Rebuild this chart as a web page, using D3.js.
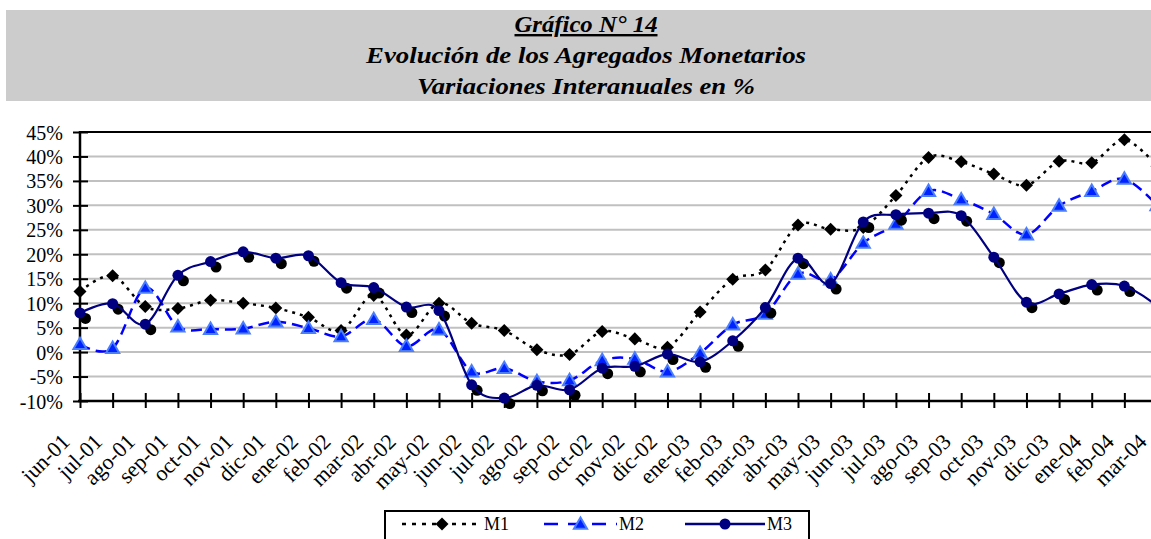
<!DOCTYPE html>
<html>
<head>
<meta charset="utf-8">
<script src="https://cdn.jsdelivr.net/npm/d3@7"></script>
<style>
  html, body { margin: 0; padding: 0; background: #fff; overflow: hidden; }
  svg, svg text { font-family: "Liberation Serif", "Times New Roman", Times, Tinos, serif; }
</style>
</head>
<body>
<div id="chart"></div>
<script>
// ---- data ----
const months = ["jun-01","jul-01","ago-01","sep-01","oct-01","nov-01","dic-01","ene-02","feb-02","mar-02",
  "abr-02","may-02","jun-02","jul-02","ago-02","sep-02","oct-02","nov-02","dic-02","ene-03","feb-03","mar-03",
  "abr-03","may-03","jun-03","jul-03","ago-03","sep-03","oct-03","nov-03","dic-03","ene-04","feb-04","mar-04"];

const m1 = [12.4, 15.6, 9.3, 8.9, 10.6, 10.0, 9.0, 7.1, 4.4, 11.6,
  3.5, 10.0, 5.9, 4.4, 0.5, -0.5, 4.2, 2.7, 1.0, 8.2, 14.9, 16.8,
  26.0, 25.1, 25.5, 32.0, 39.8, 38.9, 36.4, 34.1, 39.0, 38.7, 43.4, 38.0];

const m2 = [1.6, 0.8, 13.1, 5.2, 4.7, 4.8, 6.2, 4.9, 3.2, 6.7,
  1.2, 4.6, -4.0, -3.3, -6.0, -5.8, -1.7, -1.4, -4.0, -0.2, 5.6, 7.8,
  16.0, 14.8, 22.3, 26.2, 32.9, 31.2, 28.2, 24.0, 29.9, 32.9, 35.4, 30.0];

const m3 = [8.0, 9.9, 5.7, 15.7, 18.5, 20.5, 19.2, 19.7, 14.2, 13.2,
  9.2, 8.5, -6.7, -9.4, -6.8, -7.7, -3.3, -2.9, -0.4, -2.0, 2.3, 9.1,
  19.2, 14.0, 26.6, 28.1, 28.4, 27.9, 19.4, 10.2, 11.9, 13.8, 13.5, 9.5];

const yTicks = [-10, -5, 0, 5, 10, 15, 20, 25, 30, 35, 40, 45];
const seriesNames = ["M1", "M2", "M3"];

// ---- setup ----
const width = 1151, height = 539;
const serif = '"Liberation Serif", "Times New Roman", Times, Tinos, serif';
const svg = d3.select("#chart").append("svg")
  .attr("width", width).attr("height", height);

const x = d3.scalePoint().domain(months).range([80, 1157]);
const y = d3.scaleLinear().domain([-10, 45]).range([401, 132]);

// title box
svg.append("rect")
  .attr("x", 6).attr("y", 10).attr("width", width - 6).attr("height", 91)
  .attr("fill", "#cccccc");

const titles = [
  { text: "Gráfico N° 14", y: 32, len: 143, underline: true },
  { text: "Evolución de los Agregados Monetarios", y: 63, len: 440 },
  { text: "Variaciones Interanuales en %", y: 94, len: 338 }
];
titles.forEach(t => {
  svg.append("text")
    .attr("x", 586).attr("y", t.y)
    .attr("text-anchor", "middle")
    .attr("textLength", t.len)
    .attr("lengthAdjust", "spacingAndGlyphs")
    .style("font-family", serif)
    .style("font-size", "24px")
    .style("font-weight", "bold")
    .style("font-style", "italic")
    .style("text-decoration", t.underline ? "underline" : null)
    .text(t.text);
});

// gridlines
svg.append("g")
  .selectAll("line")
  .data(yTicks.filter(t => t !== -10 && t !== 45))
  .join("line")
  .attr("x1", 80).attr("x2", width)
  .attr("y1", d => y(d)).attr("y2", d => y(d))
  .attr("stroke", "#c0c0c0")
  .attr("stroke-width", 2);

// top border
svg.append("line")
  .attr("x1", 80).attr("x2", width)
  .attr("y1", y(45)).attr("y2", y(45))
  .attr("stroke", "#000").attr("stroke-width", 2);

// y axis
const yAxis = svg.append("g").attr("transform", "translate(80,0)")
  .call(d3.axisLeft(y).tickValues(yTicks).tickSize(7).tickFormat(d => d + "%"));
yAxis.attr("font-family", null);
yAxis.select(".domain").remove();
yAxis.selectAll(".tick line").attr("x2", 8).attr("x1", -7).attr("stroke", "#000").attr("stroke-width", 2);
yAxis.selectAll(".tick text").attr("x", -17).attr("dy", "0.35em")
  .style("font-size", "20px").style("font-family", serif).attr("fill", "#000");
yAxis.append("line").attr("x1", 0).attr("x2", 0).attr("y1", y(45) - 1).attr("y2", y(-10) + 1)
  .attr("stroke", "#000").attr("stroke-width", 2.5);

// x axis
const xAxis = svg.append("g").attr("transform", `translate(0,${y(-10)})`)
  .call(d3.axisBottom(x).tickSize(7).tickFormat(""));
xAxis.select(".domain").remove();
xAxis.selectAll(".tick line").attr("y1", -8).attr("y2", 7).attr("stroke", "#000").attr("stroke-width", 2);
xAxis.append("line").attr("x1", 78).attr("x2", width).attr("y1", 0).attr("y2", 0)
  .attr("stroke", "#000").attr("stroke-width", 2.5);

svg.append("g")
  .selectAll("text")
  .data(months)
  .join("text")
  .attr("transform", d => `translate(${x(d) - 9},443) rotate(-45)`)
  .attr("text-anchor", "end")
  .style("font-family", serif)
  .style("font-size", "22px")
  .text(d => d);

// ---- series ----
const line = d3.line()
  .x((d, i) => x(months[i]))
  .y(d => y(d))
  .curve(d3.curveCardinal.tension(0));

const diamond = d3.symbol(d3.symbolSquare, 85);
const triangle = d3.symbol(d3.symbolTriangle, 75);

// M1
svg.append("path").datum(m1)
  .attr("d", line).attr("fill", "none")
  .attr("stroke", "#000").attr("stroke-width", 2.5)
  .attr("stroke-dasharray", "3,5");
svg.append("g").selectAll("path").data(m1).join("path")
  .attr("d", diamond)
  .attr("transform", (d, i) => `translate(${x(months[i])},${y(d)}) rotate(45)`)
  .attr("fill", "#000");

// M2
svg.append("path").datum(m2)
  .attr("d", line).attr("fill", "none")
  .attr("stroke", "#0000ff").attr("stroke-width", 2.5)
  .attr("stroke-dasharray", "11,6");
svg.append("g").selectAll("path").data(m2).join("path")
  .attr("d", triangle)
  .attr("transform", (d, i) => `translate(${x(months[i])},${y(d) + 1})`)
  .attr("fill", "#0022ff")
  .attr("stroke", "#4a7dff").attr("stroke-width", 2);

// M3 shadow markers
svg.append("g").selectAll("circle").data(m3).join("circle")
  .attr("cx", (d, i) => x(months[i]) + 5.5)
  .attr("cy", d => y(d) + 5.5)
  .attr("r", 5.5)
  .attr("fill", "#000");

// M3
svg.append("path").datum(m3)
  .attr("d", line).attr("fill", "none")
  .attr("stroke", "#000080").attr("stroke-width", 2.2);
svg.append("g").selectAll("circle").data(m3).join("circle")
  .attr("cx", (d, i) => x(months[i]))
  .attr("cy", d => y(d))
  .attr("r", 5.5)
  .attr("fill", "#000080");

// ---- legend ----
const legend = svg.append("g");
legend.append("rect")
  .attr("x", 385).attr("y", 511).attr("width", 424).attr("height", 50)
  .attr("fill", "#fff").attr("stroke", "#000").attr("stroke-width", 2);

const legendItems = [
  { name: seriesNames[0], x1: 402, x2: 482, color: "#000", dash: "4,6", mark: "diamond" },
  { name: seriesNames[1], x1: 544, x2: 617, color: "#0000ff", dash: "14,10", mark: "triangle" },
  { name: seriesNames[2], x1: 685, x2: 765, color: "#000080", dash: null, mark: "circle" }
];
legendItems.forEach(it => {
  const ly = 524;
  const mx = (it.x1 + it.x2) / 2;
  legend.append("line")
    .attr("x1", it.x1).attr("x2", it.x2).attr("y1", ly).attr("y2", ly)
    .attr("stroke", it.color).attr("stroke-width", 2.5)
    .attr("stroke-dasharray", it.dash);
  if (it.mark === "diamond") {
    legend.append("path").attr("d", diamond)
      .attr("transform", `translate(${mx},${ly}) rotate(45)`).attr("fill", "#000");
  } else if (it.mark === "triangle") {
    legend.append("path").attr("d", triangle)
      .attr("transform", `translate(${mx},${ly + 1})`)
      .attr("fill", "#0022ff").attr("stroke", "#4a7dff").attr("stroke-width", 2);
  } else {
    legend.append("circle").attr("cx", mx).attr("cy", ly).attr("r", 5.5).attr("fill", "#000080");
  }
  legend.append("text")
    .attr("x", it.x2 + 2).attr("y", ly + 6)
    .style("font-family", serif)
    .style("font-size", "18px")
    .text(it.name);
});
</script>
</body>
</html>
